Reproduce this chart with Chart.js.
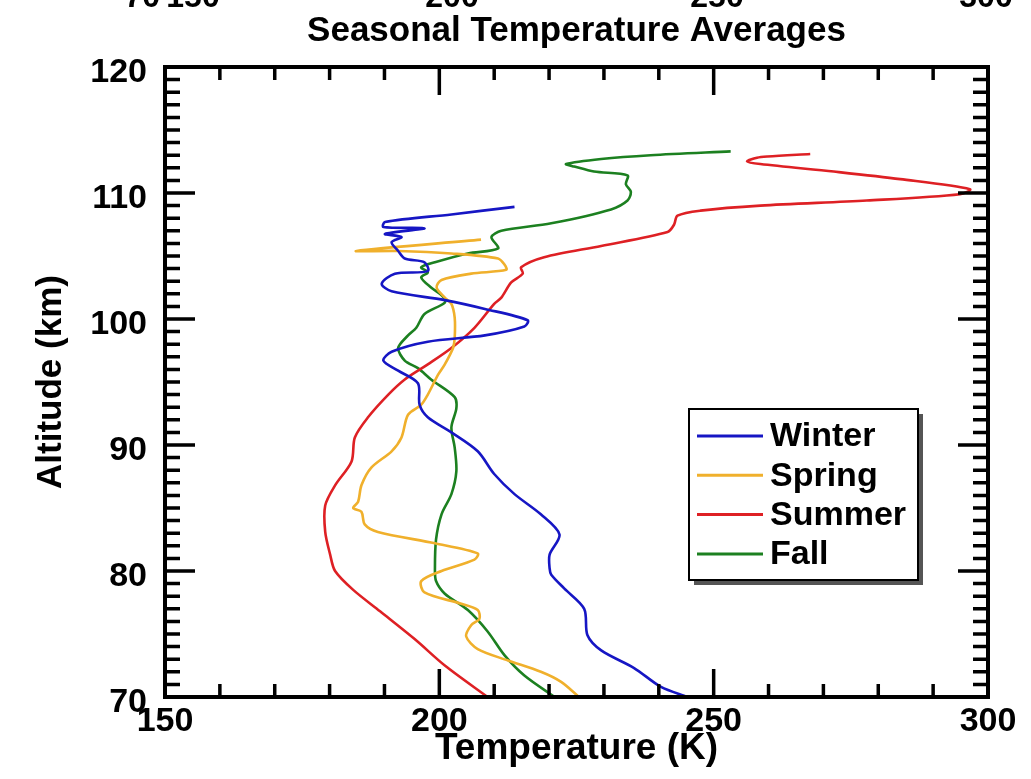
<!DOCTYPE html>
<html>
<head>
<meta charset="utf-8">
<title>Seasonal Temperature Averages</title>
<script src="https://cdn.jsdelivr.net/npm/chart.js@4.4.0/dist/chart.umd.min.js"></script>
<style>
  html, body { margin: 0; padding: 0; background: #fff; }
  #wrap { width: 1031px; height: 779px; position: relative; }
</style>
</head>
<body>
<div id="wrap"><canvas id="seasonalTemps"></canvas></div>
<script>
// values (temperature in K, altitude in km)
const seasons = ['Winter', 'Spring', 'Summer', 'Fall'];
const seasonColors = ['rgb(22,22,196)', 'rgb(240,176,44)', 'rgb(222,32,36)', 'rgb(28,128,32)'];

const winterTemp = [213.7, 202.2, 190.1, 189.8, 197.3, 190.1, 193.1, 191.3, 192.5, 193.7, 197.3, 197.9, 191.9, 189.5, 191.3, 201, 208.3, 216.1, 215.5, 208.3, 197.9, 191.3, 189.8, 192.5, 196.1, 196.4, 197.9, 202.2, 207, 210, 213.7, 218.5, 221.9, 220.1, 220.1, 220.4, 222.8, 226.4, 227, 229.5, 235.5, 240.4, 245.2];
const winterAlt  = [108.9, 108.3, 107.7, 107.3, 107.2, 106.75, 106.5, 106.1, 105.4, 104.8, 104.5, 103.8, 103.6, 102.8, 102.2, 101.5, 100.8, 99.9, 99.4, 98.7, 98.2, 97.4, 96.7, 95.9, 94.9, 93.2, 92.2, 91.0, 89.5, 87.7, 86.1, 84.5, 82.9, 81.3, 80.2, 79.7, 78.6, 77.0, 74.9, 73.7, 72.3, 70.8, 70.0];

const springTemp = [207.6, 184.9, 192.5, 202.2, 210.7, 211.9, 212.2, 205.8, 200.4, 199.5, 201, 202.2, 202.8, 202.8, 202.5, 201, 199.8, 197.9, 196.7, 194.3, 193.1, 191.3, 187.6, 185.8, 185.2, 184.3, 185.8, 186.4, 188.8, 199.2, 207, 206.4, 200.4, 196.7, 197.3, 204, 207, 207.3, 205.8, 204.9, 207, 212.5, 218.5, 222.2, 225.2];
const springAlt  = [106.3, 105.4, 105.4, 105.2, 104.8, 104.3, 103.9, 103.6, 103.1, 102.5, 101.7, 101.2, 100.1, 98.5, 97.7, 96.4, 95.6, 94.0, 93.2, 92.4, 90.6, 89.5, 88.2, 86.8, 85.5, 85.0, 84.7, 83.7, 83.1, 82.2, 81.4, 80.9, 80.0, 79.2, 78.3, 77.4, 76.9, 76.2, 75.7, 74.8, 73.8, 72.9, 72.0, 71.2, 70.1];

const summerTemp = [267.6, 259.8, 257.9, 256.1, 258.5, 271.9, 284, 296.7, 294.9, 277.9, 258.5, 247.6, 243.4, 242.8, 241.6, 229.5, 219.1, 214.9, 215.2, 213.1, 211.3, 210, 206.4, 202.2, 197.9, 193.7, 190.7, 187, 184.6, 184, 181, 179.2, 179.2, 180.1, 181, 184.3, 189.2, 195.5, 201, 208.8];
const summerAlt  = [113.1, 112.9, 112.8, 112.5, 112.3, 111.7, 111.1, 110.3, 109.9, 109.4, 109.0, 108.6, 108.2, 107.5, 106.9, 105.8, 104.9, 104.1, 103.6, 102.9, 101.7, 101.2, 99.3, 97.7, 96.4, 95.2, 94.0, 92.2, 90.6, 88.7, 86.8, 85.2, 83.1, 81.3, 80.0, 78.5, 76.8, 74.6, 72.5, 70.0];

const fallTemp = [253.1, 238.5, 229.5, 223.1, 224.6, 228.2, 234.3, 234, 234.9, 234.3, 231.3, 220.4, 211.3, 209.5, 210.7, 205.2, 199.2, 196.7, 197.9, 196.7, 198.5, 200.6, 201, 197.3, 195.8, 194.3, 192.5, 193.7, 196.1, 198.5, 202.8, 203.1, 202.2, 202.8, 203.1, 202.2, 200.4, 199.4, 199.2, 199.4, 201, 205.2, 208.8, 211.9, 215.5, 221];
const fallAlt  = [113.3, 113.0, 112.7, 112.3, 112.1, 111.7, 111.4, 110.7, 110.1, 109.4, 108.7, 107.6, 107.0, 106.5, 105.6, 105.2, 104.5, 104.1, 103.7, 103.3, 102.5, 101.8, 101.3, 100.4, 99.3, 98.7, 97.7, 96.7, 96.1, 95.2, 93.8, 92.9, 91.4, 89.8, 87.9, 86.1, 84.5, 82.5, 80.2, 79.2, 78.2, 76.9, 75.2, 73.3, 71.7, 70.0];

const xTicks = [150, 200, 250, 300];
const yTicks = [70, 80, 90, 100, 110, 120];
// labels of the panel above, cut off at the top edge
const strayLabels = ['70', '150', '200', '250', '300'];

const temps = [winterTemp, springTemp, summerTemp, fallTemp];
const alts = [winterAlt, springAlt, summerAlt, fallAlt];

const FONT = "'Liberation Sans', Arial, Helvetica, sans-serif";
Chart.defaults.font.family = FONT;
Chart.defaults.color = '#000';

function toPoints(t, a) {
  return t.map((v, i) => ({ x: v, y: a[i] }));
}

// box round the plot with inward ticks on all four sides
const frame = {
  id: 'frame',
  afterDatasetsDraw(chart) {
    const { ctx, chartArea: a, scales: { x, y } } = chart;
    ctx.save();
    ctx.strokeStyle = '#000';
    ctx.lineCap = 'butt';
    ctx.lineWidth = 3.5;
    ctx.beginPath();
    for (let t = x.min; t <= x.max; t += 10) {
      const px = x.getPixelForValue(t);
      const len = t % 50 === 0 ? 28 : 13;
      ctx.moveTo(px, a.bottom); ctx.lineTo(px, a.bottom - len);
      ctx.moveTo(px, a.top); ctx.lineTo(px, a.top + len);
    }
    for (let v = y.min; v <= y.max; v += 1) {
      const py = y.getPixelForValue(v);
      const len = v % 10 === 0 ? 30 : 15;
      ctx.moveTo(a.left, py); ctx.lineTo(a.left + len, py);
      ctx.moveTo(a.right, py); ctx.lineTo(a.right - len, py);
    }
    ctx.stroke();
    ctx.lineWidth = 4;
    ctx.strokeRect(a.left, a.top, a.right - a.left, a.bottom - a.top);
    ctx.restore();
  }
};

const boxLegend = {
  id: 'boxLegend',
  afterDraw(chart) {
    const ctx = chart.ctx;
    const bx = 689, by = 409, bw = 229, bh = 171;
    ctx.save();
    ctx.fillStyle = '#555';
    ctx.fillRect(bx + 5, by + 5, bw, bh);
    ctx.fillStyle = '#fff';
    ctx.fillRect(bx, by, bw, bh);
    ctx.strokeStyle = '#000';
    ctx.lineWidth = 2;
    ctx.strokeRect(bx, by, bw, bh);
    ctx.font = 'bold 34px ' + FONT;
    ctx.textBaseline = 'middle';
    ctx.textAlign = 'left';
    chart.data.datasets.forEach((ds, i) => {
      const ry = 436 + i * 39.3;
      ctx.strokeStyle = ds.borderColor;
      ctx.lineWidth = 3;
      ctx.beginPath();
      ctx.moveTo(697, ry); ctx.lineTo(763, ry);
      ctx.stroke();
      ctx.fillStyle = '#000';
      ctx.fillText(ds.label, 770, ry + 1);
    });
    ctx.restore();
  }
};

const strayText = {
  id: 'strayText',
  afterDraw(chart) {
    const ctx = chart.ctx;
    const xs = [160, 193, 452, 717, 986];
    ctx.save();
    ctx.font = 'bold 32px ' + FONT;
    ctx.fillStyle = '#000';
    ctx.textBaseline = 'alphabetic';
    strayLabels.forEach((s, i) => {
      ctx.textAlign = i === 0 ? 'right' : 'center';
      ctx.fillText(s, xs[i], 7);
    });
    ctx.restore();
  }
};

const ctx = document.getElementById('seasonalTemps');
new Chart(ctx, {
  type: 'scatter',
  data: {
    datasets: seasons.map((name, i) => ({
      label: name,
      data: toPoints(temps[i], alts[i]),
      showLine: true,
      borderColor: seasonColors[i],
      backgroundColor: seasonColors[i],
      borderWidth: 2.6,
      pointRadius: 0,
      tension: 0.3
    }))
  },
  options: {
    responsive: true,
    maintainAspectRatio: false,
    animation: false,
    layout: { padding: { left: 0, right: 43, top: 0, bottom: 0 } },
    scales: {
      x: {
        type: 'linear',
        position: 'bottom',
        min: 150,
        max: 300,
        afterBuildTicks: s => { s.ticks = xTicks.map(v => ({ value: v })); },
        afterFit: s => { s.height = 82; },
        grid: { display: false, drawTicks: false },
        border: { display: false },
        ticks: { font: { size: 34, weight: 'bold' }, padding: 4, maxRotation: 0 },
        title: {
          display: true,
          text: 'Temperature (K)',
          font: { size: 37, weight: 'bold' },
          padding: { top: 0, bottom: 8 }
        }
      },
      y: {
        type: 'linear',
        min: 70,
        max: 120,
        afterBuildTicks: s => { s.ticks = yTicks.map(v => ({ value: v })); },
        afterFit: s => { s.width = 165; },
        grid: { display: false, drawTicks: false },
        border: { display: false },
        ticks: { font: { size: 34, weight: 'bold' }, padding: 18, labelOffset: 6 },
        title: {
          display: true,
          text: 'Altitude (km)',
          font: { size: 35, weight: 'bold' },
          padding: { top: 30, bottom: 0 }
        }
      }
    },
    plugins: {
      title: {
        display: true,
        fullSize: false,
        text: 'Seasonal Temperature Averages',
        font: { size: 35, weight: 'bold' },
        padding: { top: 10, bottom: 15 }
      },
      legend: { display: false },
      tooltip: { enabled: false }
    }
  },
  plugins: [frame, boxLegend, strayText]
});
</script>
</body>
</html>
